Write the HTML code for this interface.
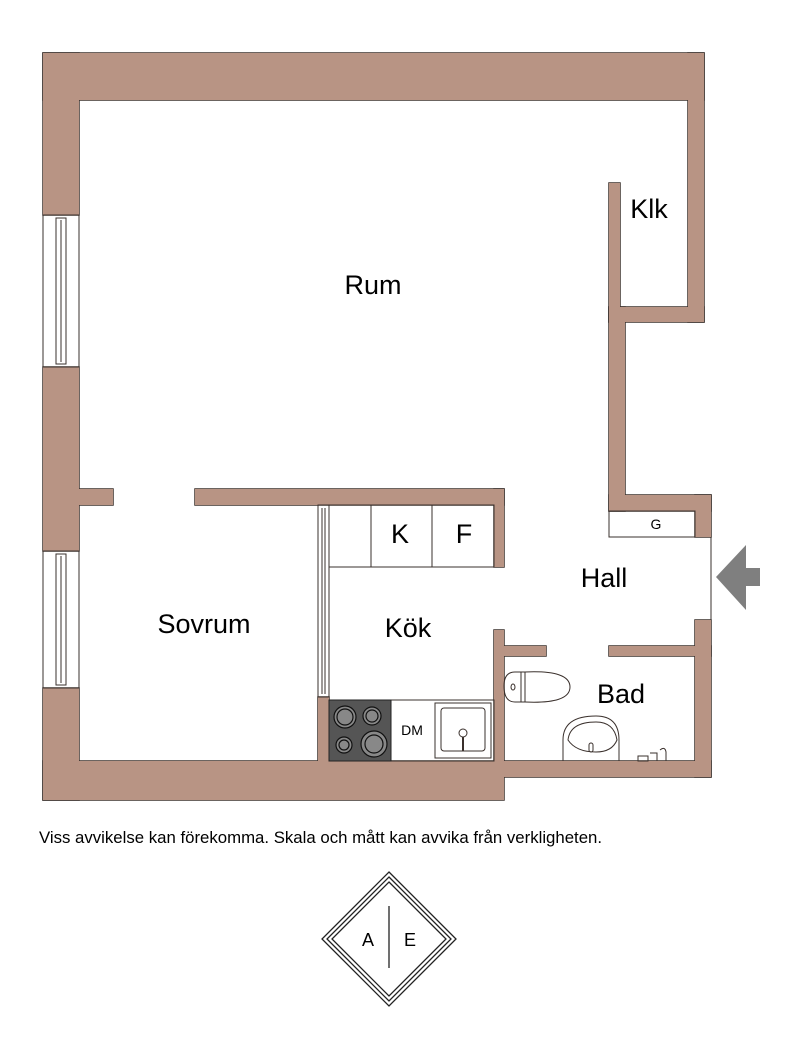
<!DOCTYPE html>
<html><head><meta charset="utf-8"><style>
html,body{margin:0;padding:0;background:#fff}
svg{display:block}
text{font-family:"Liberation Sans",sans-serif;fill:#000}
</style></head><body>
<svg width="800" height="1058" viewBox="0 0 800 1058" xmlns="http://www.w3.org/2000/svg">
<g id="walls" fill="#b89484" stroke="#3a302c" stroke-width="1.5">
<rect x="43" y="53" width="661" height="47"/>
<rect x="688" y="53" width="16" height="269"/>
<rect x="43" y="53" width="36" height="162"/>
<rect x="43" y="367" width="36" height="184"/>
<rect x="43" y="688" width="36" height="112"/>
<rect x="79" y="489" width="34" height="16"/>
<rect x="195" y="489" width="309" height="16"/>
<rect x="494" y="489" width="10" height="78"/>
<rect x="609" y="183" width="11" height="139"/>
<rect x="609" y="307" width="95" height="15"/>
<rect x="609" y="307" width="16" height="204"/>
<rect x="609" y="495" width="102" height="16"/>
<rect x="695" y="495" width="16" height="42"/>
<rect x="43" y="761" width="461" height="39"/>
<rect x="494" y="630" width="10" height="147"/>
<rect x="504" y="646" width="42" height="10"/>
<rect x="609" y="646" width="102" height="10"/>
<rect x="695" y="620" width="16" height="157"/>
<rect x="504" y="761" width="207" height="16"/>
<rect x="318" y="697" width="11" height="64"/>
</g>
<g fill="#b89484">
<rect x="43" y="53" width="661" height="47"/>
<rect x="688" y="53" width="16" height="269"/>
<rect x="43" y="53" width="36" height="162"/>
<rect x="43" y="367" width="36" height="184"/>
<rect x="43" y="688" width="36" height="112"/>
<rect x="79" y="489" width="34" height="16"/>
<rect x="195" y="489" width="309" height="16"/>
<rect x="494" y="489" width="10" height="78"/>
<rect x="609" y="183" width="11" height="139"/>
<rect x="609" y="307" width="95" height="15"/>
<rect x="609" y="307" width="16" height="204"/>
<rect x="609" y="495" width="102" height="16"/>
<rect x="695" y="495" width="16" height="42"/>
<rect x="43" y="761" width="461" height="39"/>
<rect x="494" y="630" width="10" height="147"/>
<rect x="504" y="646" width="42" height="10"/>
<rect x="609" y="646" width="102" height="10"/>
<rect x="695" y="620" width="16" height="157"/>
<rect x="504" y="761" width="207" height="16"/>
<rect x="318" y="697" width="11" height="64"/>
</g>
<g fill="none" stroke="#3a302c" stroke-width="1">
<rect x="43" y="215" width="36" height="152"/>
<rect x="56" y="218" width="10" height="146"/>
<line x1="61" y1="220" x2="61" y2="362"/>
<rect x="43" y="551" width="36" height="137"/>
<rect x="56" y="554" width="10" height="131"/>
<line x1="61" y1="556" x2="61" y2="683"/>
<rect x="318" y="505" width="11" height="192"/>
<line x1="322" y1="508" x2="322" y2="694"/>
<line x1="325" y1="508" x2="325" y2="694"/>
<rect x="329" y="505" width="165" height="62"/>
<line x1="371" y1="505" x2="371" y2="567"/>
<line x1="432" y1="505" x2="432" y2="567"/>
<rect x="609" y="511" width="86" height="26"/>
<line x1="711" y1="537" x2="711" y2="620"/>
<rect x="391" y="700" width="103" height="61"/>
<rect x="435" y="703" width="56" height="55"/>
<rect x="441" y="708" width="44" height="43" rx="3"/>
<circle cx="463" cy="733" r="4"/>
<line x1="463" y1="737" x2="463" y2="751" stroke-width="2"/>
<path d="M515,672 Q504,672 504,686 Q504,702 515,702 L525,702 L525,672 Z"/>
<path d="M525,672 Q570,670 570,687 Q570,704 525,702"/>
<line x1="521" y1="672" x2="521" y2="702"/>
<ellipse cx="513" cy="687" rx="2" ry="3"/>
<path d="M563,761 L563,740 Q563,716 596,716 Q619,716 619,740 L619,761"/>
<path d="M568,740 Q570,722 596,722 Q614,722 617,740 Q612,752 596,752 Q576,752 568,740 Z"/>
<rect x="589" y="743" width="4" height="9" rx="2"/>
<path d="M638,756 L648,756 L648,761 L638,761 Z M650,753 L657,753 L657,761 M660,750 Q665,746 666,752 L666,761"/>
</g>
<rect x="329" y="700" width="62" height="61" fill="#555" stroke="#222"/>
<g fill="#888" stroke="#111" stroke-width="1.2">
<circle cx="345" cy="717" r="11"/><circle cx="345" cy="717" r="8"/>
<circle cx="372" cy="716" r="9"/><circle cx="372" cy="716" r="6"/>
<circle cx="344" cy="745" r="8"/><circle cx="344" cy="745" r="5"/>
<circle cx="374" cy="744" r="13"/><circle cx="374" cy="744" r="9"/>
</g>
<polygon points="716,577 746,545 746,568 760,568 760,586 746,586 746,610" fill="#7f7f7f"/>
<text x="373" y="294" font-size="27" text-anchor="middle">Rum</text>
<text x="649" y="218" font-size="27" text-anchor="middle">Klk</text>
<text x="204" y="633" font-size="27" text-anchor="middle">Sovrum</text>
<text x="408" y="637" font-size="27" text-anchor="middle">Kök</text>
<text x="604" y="587" font-size="27" text-anchor="middle">Hall</text>
<text x="621" y="703" font-size="27" text-anchor="middle">Bad</text>
<text x="400" y="543" font-size="27" text-anchor="middle">K</text>
<text x="464" y="543" font-size="27" text-anchor="middle">F</text>
<text x="656" y="529" font-size="14" text-anchor="middle">G</text>
<text x="412" y="735" font-size="14" text-anchor="middle">DM</text>
<text x="39" y="843" font-size="16.8">Viss avvikelse kan förekomma. Skala och mått kan avvika från verkligheten.</text>
<g fill="none" stroke="#222" stroke-width="1.3">
<polygon points="389,872 456,939 389,1006 322,939"/>
<polygon points="389,877 451,939 389,1001 327,939"/>
<polygon points="389,882 446,939 389,996 332,939"/>
<line x1="389" y1="906" x2="389" y2="968"/>
</g>
<text x="368" y="946" font-size="18" text-anchor="middle">A</text>
<text x="410" y="946" font-size="18" text-anchor="middle">E</text>
</svg>
</body></html>
